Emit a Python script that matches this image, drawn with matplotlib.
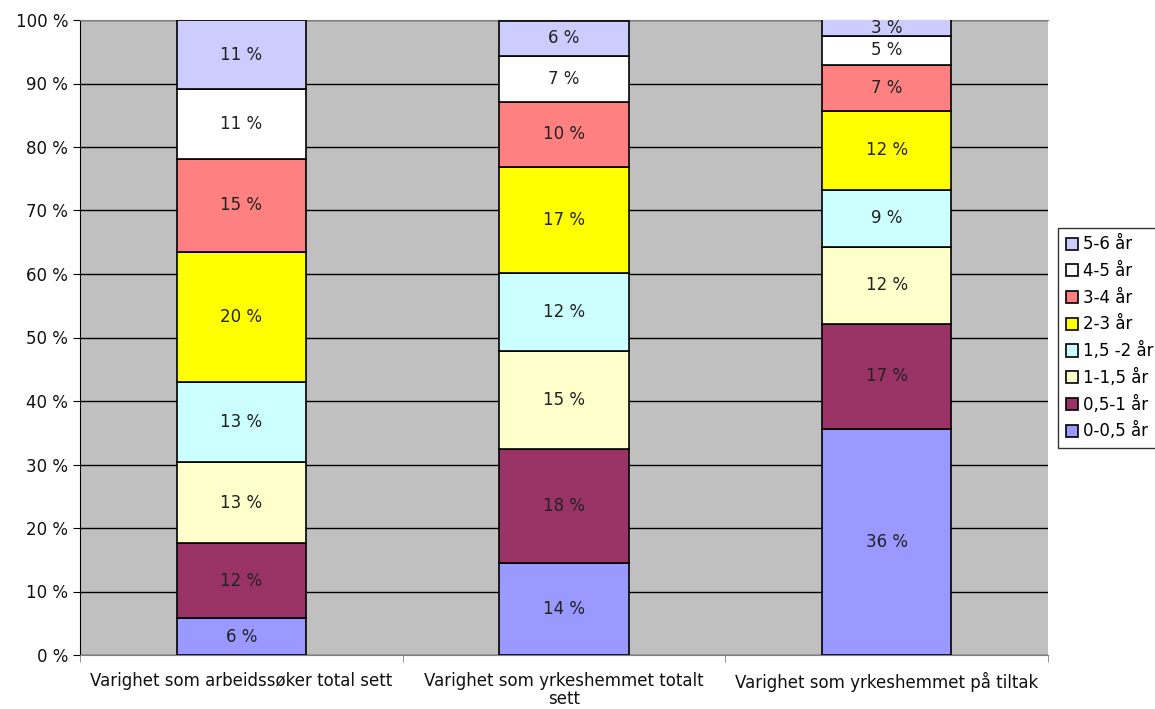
import numpy as np
import matplotlib
matplotlib.use("Agg")
import matplotlib.pyplot as plt
from matplotlib.ticker import MultipleLocator, FuncFormatter

categories = ["Varighet som arbeidssøker total sett",
              "Varighet som yrkeshemmet totalt\nsett",
              "Varighet som yrkeshemmet på tiltak"]
series = ["0-0,5 år", "0,5-1 år", "1-1,5 år", "1,5 -2 år",
          "2-3 år", "3-4 år", "4-5 år", "5-6 år"]
# share in % per category (columns follow categories)
values = [
    [5.8, 14.5, 35.6],
    [11.8, 17.9, 16.6],
    [12.8, 15.4, 12.0],
    [12.6, 12.4, 9.1],
    [20.5, 16.7, 12.4],
    [14.6, 10.2, 7.2],
    [11.0, 7.3, 4.6],
    [10.9, 5.5, 2.6],
]
colors = ["#9999FF", "#993366", "#FFFFCC", "#CCFFFF",
          "#FFFF00", "#FF8080", "#FFFFFF", "#CCCCFF"]

FS = 12
plt.rcParams['font.family'] = ['DejaVu Sans']
fig = plt.figure(figsize=(11.55, 7.09), dpi=100)
ax = fig.add_axes([80/1155, 1-655/709, 968/1155, 635/709])
ax.set_facecolor("#C0C0C0")

x = np.arange(len(categories))
bottom = np.zeros(len(categories))
bars = []
for name, vals, col in zip(series, values, colors):
    vals = np.array(vals)
    b = ax.bar(x, vals, 0.4, bottom=bottom, color=col, edgecolor="black",
               linewidth=1.2, label=name, zorder=3)
    bars.append(b)
    for xi, v, bt in zip(x, vals, bottom):
        ax.text(xi, bt + v/2, f"{v:.0f} %", ha="center", va="center",
                fontsize=FS, color="#222222", zorder=4, clip_on=False)
    bottom += vals

ax.set_xlim(-0.5, 2.5)
ax.set_ylim(0, 100)
ax.yaxis.set_major_locator(MultipleLocator(10))
ax.yaxis.set_major_formatter(FuncFormatter(lambda v, p: f"{v:.0f} %"))
ax.grid(axis="y", color="black", linewidth=1, zorder=1)
ax.set_xticks(x)
ax.set_xticklabels(categories, fontsize=FS, color="#111111", linespacing=1.0)
ax.set_xticks([-0.5, 0.5, 1.5, 2.5], minor=True)
ax.tick_params(axis="x", which="major", length=0, pad=12)
ax.tick_params(axis="x", which="minor", length=5, color="#808080")
ax.tick_params(axis="y", length=5, labelsize=FS, labelcolor="#111111")

ax.spines["top"].set_color("#808080")
ax.spines["right"].set_visible(False)
ax.spines["left"].set_color("black")
ax.spines["bottom"].set_color("#808080")

handles = bars[::-1]
leg = fig.legend(handles, series[::-1], loc="upper left",
                 bbox_to_anchor=(1058/1155, 1-228/709), fontsize=FS,
                 frameon=True, fancybox=False, edgecolor="black",
                 handlelength=0.75, handleheight=0.75, handletextpad=0.3,
                 labelspacing=0.52, borderpad=0.45, borderaxespad=0)
leg.get_frame().set_linewidth(1)

fig.savefig("out.png", dpi=100)
